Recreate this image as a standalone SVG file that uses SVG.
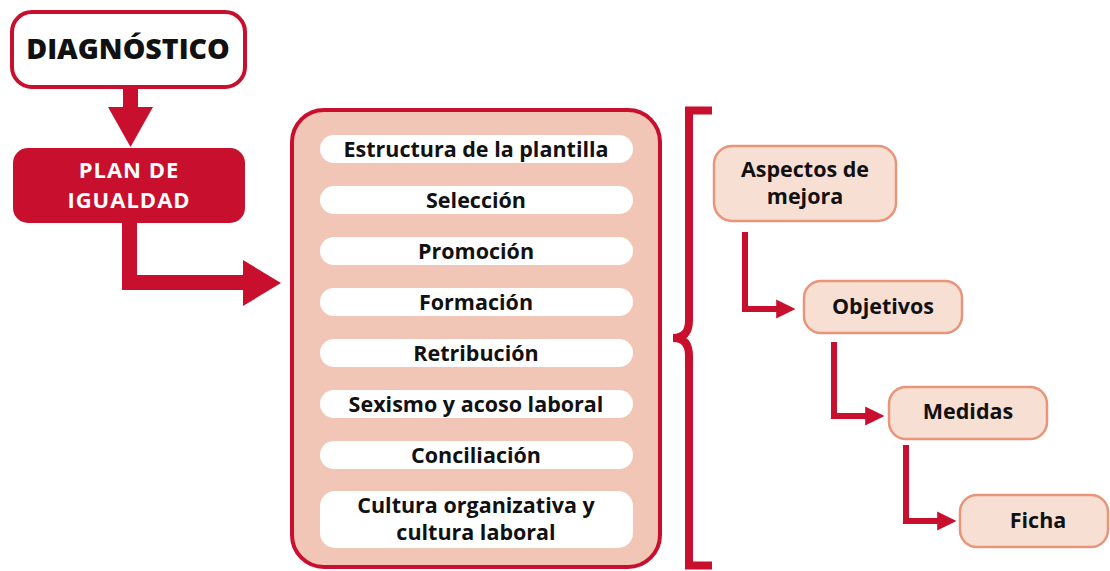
<svg xmlns="http://www.w3.org/2000/svg" width="1110" height="571" viewBox="0 0 1110 571">
<style>
text{font-family:"Open Sans","Noto Sans","Liberation Sans",sans-serif;font-weight:bold;text-anchor:middle;fill:#111}
.pill{fill:#fff}
.pt{font-size:21.5px}
.rn{fill:#f8dfd3;stroke:#e8957a;stroke-width:2.5}
.red{fill:#c8102e}
.conn{fill:none;stroke:#c8102e;stroke-width:6}
</style>
<defs>
<marker id="ah" viewBox="0 0 10 10" refX="2" refY="5" markerWidth="3.2" markerHeight="3.2" orient="auto" markerUnits="strokeWidth">
<path d="M0,0 L10,5 L0,10 Z" fill="#c8102e"/>
</marker>
</defs>
<rect width="1110" height="571" fill="#fff"/>

<g id="diagnostico">
<rect x="12" y="12" width="233" height="75" rx="20" fill="#fff" stroke="#c8102e" stroke-width="4"/>
<text x="128" y="59" style="font-size:28.5px;font-weight:800">DIAGNÓSTICO</text>
</g>

<g id="plan">
<rect x="13" y="148" width="232" height="75" rx="15" class="red"/>
<text x="129" y="178" style="font-size:22px;letter-spacing:1px;fill:#fff">PLAN DE</text>
<text x="129" y="208" style="font-size:22px;letter-spacing:1px;fill:#fff">IGUALDAD</text>
</g>

<g id="areas">
<rect x="292" y="110" width="368" height="457" rx="32" fill="#f2c6b6" stroke="#c8102e" stroke-width="4"/>
<rect class="pill" x="320" y="135" width="313" height="28" rx="14"/>
<text class="pt" x="476" y="157">Estructura de la plantilla</text>
<rect class="pill" x="320" y="186" width="313" height="28" rx="14"/>
<text class="pt" x="476" y="208">Selección</text>
<rect class="pill" x="320" y="237" width="313" height="28" rx="14"/>
<text class="pt" x="476" y="259">Promoción</text>
<rect class="pill" x="320" y="288" width="313" height="28" rx="14"/>
<text class="pt" x="476" y="310">Formación</text>
<rect class="pill" x="320" y="339" width="313" height="28" rx="14"/>
<text class="pt" x="476" y="361">Retribución</text>
<rect class="pill" x="320" y="390" width="313" height="28" rx="14"/>
<text class="pt" x="476" y="412">Sexismo y acoso laboral</text>
<rect class="pill" x="320" y="441" width="313" height="28" rx="14"/>
<text class="pt" x="476" y="463">Conciliación</text>
<rect class="pill" x="320" y="491" width="313" height="57" rx="15"/>
<text class="pt" x="476" y="513">Cultura organizativa y</text>
<text class="pt" x="476" y="540">cultura laboral</text>
</g>

<g id="aspectos">
<rect class="rn" x="714" y="146" width="182" height="75" rx="18"/>
<text class="pt" x="805" y="177">Aspectos de</text>
<text class="pt" x="805" y="204">mejora</text>
</g>
<g id="objetivos">
<rect class="rn" x="804" y="281" width="158" height="52" rx="17"/>
<text class="pt" x="883" y="314">Objetivos</text>
</g>
<g id="medidas">
<rect class="rn" x="889" y="387" width="158" height="52" rx="17"/>
<text class="pt" x="968" y="419">Medidas</text>
</g>
<g id="ficha">
<rect class="rn" x="960" y="495" width="148" height="52" rx="17"/>
<text class="pt" x="1038" y="528">Ficha</text>
</g>

<g id="connectors">
<path class="red" d="M123,87 H138 V107 H153 L130.5,147 L108,107 H123 Z"/>
<path class="red" d="M122,223 H137 V275 H243 V260 L281,283 L243,306 V290 H122 Z"/>
<path d="M712,110.5 H689 V320 C689,332 684,338 673,338 C684,338 689,344 689,356 V565.5 H712" fill="none" stroke="#c8102e" stroke-width="8" stroke-linejoin="miter"/>
<path class="conn" d="M745,232 V309 H780" marker-end="url(#ah)"/>
<path class="conn" d="M834,342 V416 H869" marker-end="url(#ah)"/>
<path class="conn" d="M906,445 V521 H941" marker-end="url(#ah)"/>
</g>
</svg>
